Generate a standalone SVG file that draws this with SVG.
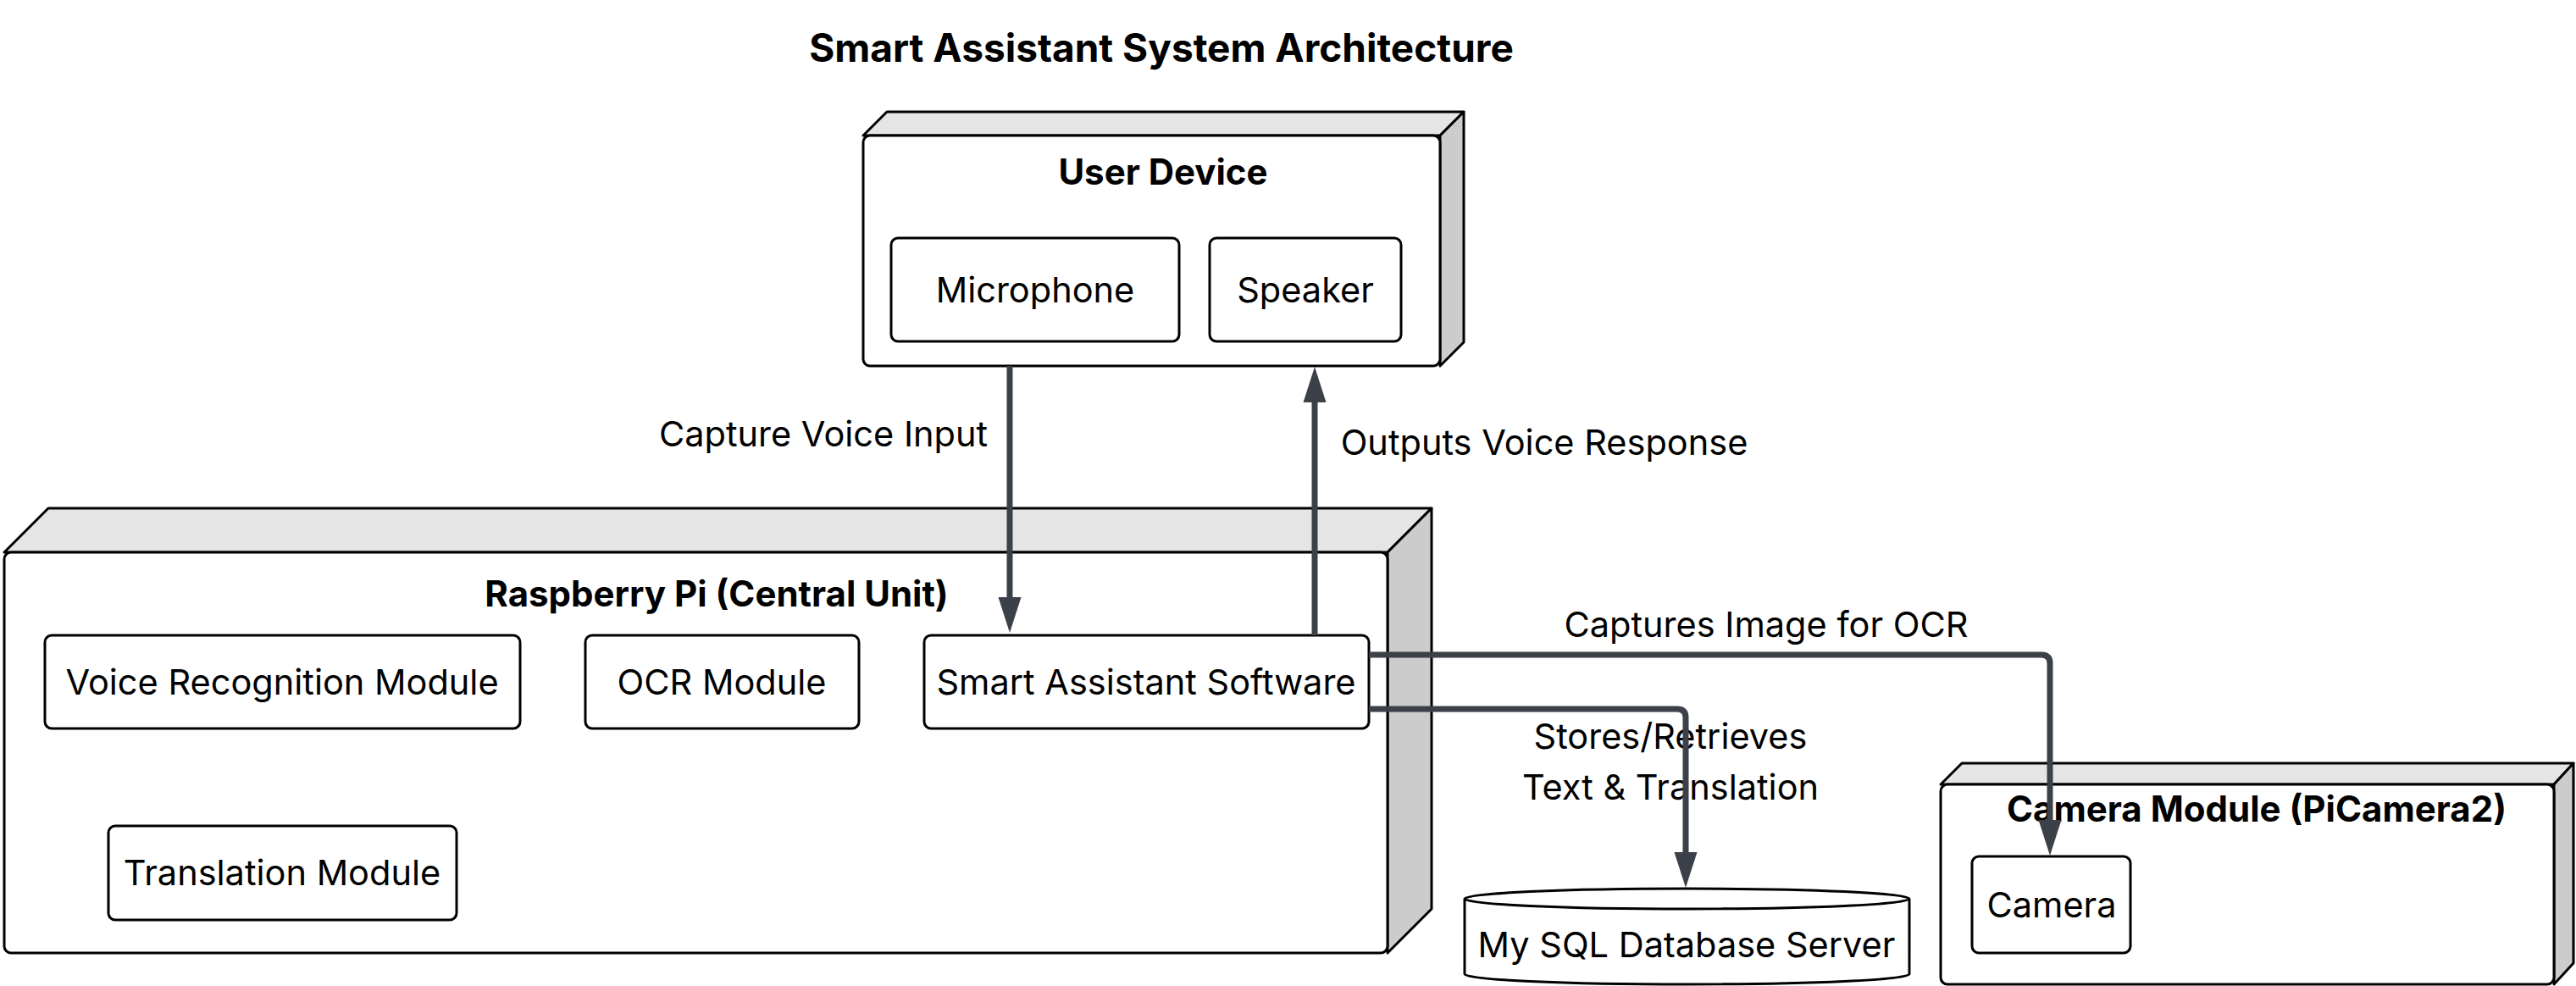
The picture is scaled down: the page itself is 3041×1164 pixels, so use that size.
<svg xmlns="http://www.w3.org/2000/svg" width="3041" height="1164" viewBox="0 0 3041 1164">
<defs>
<style>
.front{fill:#ffffff;stroke:#000;stroke-width:3;stroke-linejoin:round}
.top{fill:#e5e5e5;stroke:#000;stroke-width:3;stroke-linejoin:round}
.side{fill:#cccccc;stroke:#000;stroke-width:3;stroke-linejoin:round}
.box{fill:#ffffff;stroke:#000;stroke-width:3}
.t{font-family:Inter,'Liberation Sans',sans-serif;font-size:41.5px;fill:#000;text-anchor:middle;dominant-baseline:central}
.b{font-family:Inter,'Liberation Sans',sans-serif;font-size:42px;font-weight:bold;fill:#000;text-anchor:middle;dominant-baseline:central}
.title{font-family:Inter,'Liberation Sans',sans-serif;font-size:46px;font-weight:bold;fill:#000;text-anchor:middle;dominant-baseline:central}
.edge{fill:none;stroke:#3b4049;stroke-width:7}
</style>
<marker id="arr" markerUnits="userSpaceOnUse" markerWidth="42" markerHeight="28" refX="0" refY="14" orient="auto">
<path d="M0,0.5 L42,14 L0,27.5 z" fill="#3b4049"/>
</marker>
</defs>
<rect width="3041" height="1164" fill="#ffffff"/>
<text class="title" x="1371" y="56">Smart Assistant System Architecture</text>

<g id="user-device">
<polygon class="top" points="1019,160 1047,132 1728,132 1700,160"/>
<polygon class="side" points="1700,160 1728,132 1728,404 1700,432"/>
<rect class="front" x="1019" y="160" width="681" height="272" rx="8"/>
<text class="b" x="1373" y="202">User Device</text>
</g>
<g id="microphone">
<rect class="box" x="1052" y="281" width="340" height="122" rx="8"/>
<text class="t" x="1222" y="342">Microphone</text>
</g>
<g id="speaker">
<rect class="box" x="1428" y="281" width="226" height="122" rx="8"/>
<text class="t" x="1541" y="342">Speaker</text>
</g>

<g id="raspberry-pi">
<polygon class="top" points="5,652 57,600 1690,600 1638,652"/>
<polygon class="side" points="1638,652 1690,600 1690,1073 1638,1125"/>
<rect class="front" x="5" y="652" width="1633" height="473" rx="8"/>
<text class="b" x="846" y="700">Raspberry Pi (Central Unit)</text>
</g>
<g id="voice-recognition">
<rect class="box" x="53" y="750" width="561" height="110" rx="8"/>
<text class="t" x="333" y="805">Voice Recognition Module</text>
</g>
<g id="ocr">
<rect class="box" x="691" y="750" width="323" height="110" rx="8"/>
<text class="t" x="852" y="805">OCR Module</text>
</g>
<g id="smart-assistant">
<rect class="box" x="1091" y="750" width="525" height="110" rx="8"/>
<text class="t" x="1353" y="805">Smart Assistant Software</text>
</g>
<g id="translation">
<rect class="box" x="128" y="975" width="411" height="111" rx="8"/>
<text class="t" x="333" y="1030">Translation Module</text>
</g>

<g id="database">
<path class="front" d="M1729,1061 A262.5,12 0 0,0 2254,1061 A262.5,12 0 0,0 1729,1061 L1729,1150 A262.5,12 0 0,0 2254,1150 L2254,1061"/>
<text class="t" x="1991" y="1115">My SQL Database Server</text>
</g>

<g id="camera-module">
<polygon class="top" points="2291,926 2316,901 3038,901 3015,926"/>
<polygon class="side" points="3015,926 3038,901 3038,1137 3015,1162"/>
<rect class="front" x="2291" y="926" width="724" height="236" rx="8"/>
<text class="b" x="2664" y="954">Camera Module (PiCamera2)</text>
</g>
<g id="camera">
<rect class="box" x="2328" y="1011" width="187" height="114" rx="8"/>
<text class="t" x="2422" y="1068">Camera</text>
</g>

<g id="edge-labels">
<text class="t" x="972" y="512">Capture Voice Input</text>
<text class="t" x="1823" y="522">Outputs Voice Response</text>
<text class="t" x="2085" y="737">Captures Image for OCR</text>
<text class="t" x="1972" y="869">Stores/Retrieves</text>
<text class="t" x="1972" y="929">Text &amp; Translation</text>
</g>

<g id="connectors">
<path class="edge" d="M1192,432 L1192,705" marker-end="url(#arr)"/>
<path class="edge" d="M1552,750 L1552,475" marker-end="url(#arr)"/>
<path class="edge" d="M1616,773 L2410,773 Q2420,773 2420,783 L2420,968" marker-end="url(#arr)"/>
<path class="edge" d="M1616,837 L1980,837 Q1990,837 1990,847 L1990,1006" marker-end="url(#arr)"/>
</g>
</svg>
